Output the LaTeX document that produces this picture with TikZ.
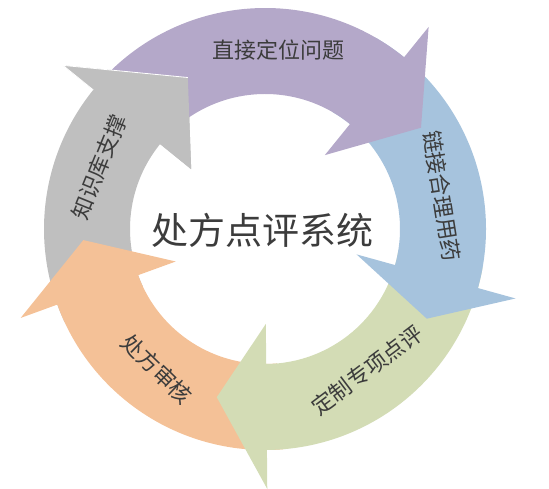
\documentclass[tikz,border=0pt]{standalone}
\usepackage{fontspec}
\newfontfamily\cjk{Noto Sans CJK SC}
\definecolor{cPurple}{HTML}{B4A8C9}
\definecolor{cBlue}{HTML}{A6C3DD}
\definecolor{cGreen}{HTML}{D3DCB5}
\definecolor{cOrange}{HTML}{F4C197}
\definecolor{cGray}{HTML}{BFBFBF}
\definecolor{txt}{HTML}{3C3C3C}
% color, tail angle, base angle, tip angle, tip radius
\newcommand\ringarrow[5]{%
  \fill[#1] (#2:221pt) arc[start angle=#2,end angle=#3,radius=221pt]
    -- (#3:260pt) -- (#4:#5pt) -- (#3:95pt) -- (#3:135pt)
    arc[start angle=#3,end angle=#2,radius=135pt] -- cycle;}
\begin{document}
\begin{tikzpicture}[x=1pt,y=1pt,
  lbl/.style={text=txt,font=\cjk\fontsize{22}{22}\selectfont,inner sep=0pt},
  title/.style={text=txt,font=\cjk\fontsize{37}{37}\selectfont,inner sep=0pt}]
\useasboundingbox (0,0) rectangle (549,489);
\begin{scope}[shift={(265,260)}]
  \ringarrow{cGray}{205}{141}{117}{170}
  \ringarrow{cOrange}{-85}{-160}{-176.5}{182}
  \ringarrow{cGreen}{-10}{-89.5}{-106}{175}
  \ringarrow{cBlue}{60}{-15.5}{-29}{185}
  \ringarrow{cPurple}{140.5}{51}{33}{186}
  % gray head over the purple tail
  \fill[cGray] (141:260pt) -- (117:170pt) -- (141:95pt) -- cycle;
  \draw[white,line width=0.8pt] (141:221pt) -- (141:260pt) -- (117:170pt);
\end{scope}
\node[title] (center) at (262,259) {处方点评系统};
\node[lbl] (t1) at (278,439) {直接定位问题};
\node[lbl,rotate=-81] (t2) at (442,293) {链接合理用药};
\node[lbl,rotate=37] (t3) at (367,119) {定制专项点评};
\node[lbl,rotate=-44] (t4) at (157,120) {处方审核};
\node[lbl,rotate=68] (t5) at (99,322) {知识库支撑};
\end{tikzpicture}
\end{document}
